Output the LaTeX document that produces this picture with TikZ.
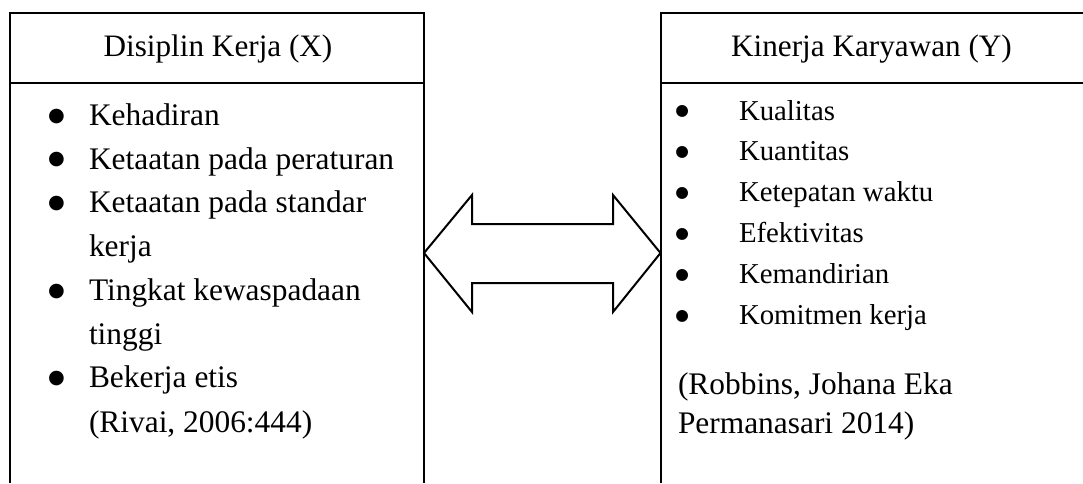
\documentclass[tikz,border=0pt]{standalone}
\usepackage{fontspec}
\setmainfont{Liberation Serif}
\newfontfamily\dotfont{DejaVu Sans}
\begin{document}
\begin{tikzpicture}[x=0.5pt,y=-0.5pt,line width=1pt,
  frame/.style={draw=black,line width=1pt},
  txt/.style={anchor=base west,inner sep=0pt,font=\fontsize{15.7}{19}\selectfont},
  txts/.style={anchor=base west,inner sep=0pt,font=\fontsize{14.4}{17}\selectfont},
  hdr/.style={anchor=base,inner sep=0pt,font=\fontsize{15.6}{19}\selectfont},
  bul/.style={anchor=center,inner sep=0pt,font=\dotfont\fontsize{9.6}{10}\selectfont},
  buls/.style={anchor=center,inner sep=0pt,font=\dotfont\fontsize{7.8}{8}\selectfont},
  arrowshape/.style={draw=black,line width=1pt,fill=white,line join=miter}]
\useasboundingbox (0,0) rectangle (1083,483);
% left box
\draw[frame] (10,483) -- (10,12.5) -- (424,12.5) -- (424,483);
\draw[frame] (10,82.5) -- (424,82.5);
\node[hdr] (hx) at (218,56) {Disiplin Kerja (X)};
\node[bul] (bl1) at (56.5,116.3) {●};
\node[txt] (l1) at (88,125.5) {Kehadiran};
\node[bul] (bl2) at (56.5,160) {●};
\node[txt] (l2) at (88,169.2) {Ketaatan pada peraturan};
\node[bul] (bl3) at (56.5,203.7) {●};
\node[txt] (l3) at (88,212.9) {Ketaatan pada standar};
\node[txt] (l3b) at (88,256.6) {kerja};
\node[bul] (bl4) at (56.5,291.1) {●};
\node[txt] (l4) at (88,300.3) {Tingkat kewaspadaan};
\node[txt] (l4b) at (88,344) {tinggi};
\node[bul] (bl5) at (56.5,378.5) {●};
\node[txt] (l5) at (88,387.7) {Bekerja etis};
\node[txt] (lc) at (88,432) {(Rivai, 2006:444)};
% right box
\draw[frame] (660.5,483) -- (660.5,13) -- (1084,13);
\draw[frame] (660.5,82.5) -- (1084,82.5);
\node[hdr] (hy) at (871.5,56) {Kinerja Karyawan (Y)};
\node[buls] (br1) at (682.3,111.8) {●};
\node[txts] (r1) at (738,120) {Kualitas};
\node[buls] (br2) at (682.3,152.7) {●};
\node[txts] (r2) at (738,160.9) {Kuantitas};
\node[buls] (br3) at (682.3,193.6) {●};
\node[txts] (r3) at (738,201.8) {Ketepatan waktu};
\node[buls] (br4) at (682.3,234.5) {●};
\node[txts] (r4) at (738,242.7) {Efektivitas};
\node[buls] (br5) at (682.3,275.4) {●};
\node[txts] (r5) at (738,283.6) {Kemandirian};
\node[buls] (br6) at (682.3,316.3) {●};
\node[txts] (r6) at (738,324.5) {Komitmen kerja};
\node[txt] (rc1) at (677,394.5) {(Robbins, Johana Eka};
\node[txt] (rc2) at (677,433) {Permanasari 2014)};
% double arrow
\coordinate (tipL) at (424,253);
\coordinate (tipR) at (660.5,253);
\draw[arrowshape] (tipL) -- (472,195) -- (472,224) -- (613,224) -- (613,195)
  -- (tipR) -- (613,312) -- (613,283) -- (472,283) -- (472,312) -- cycle;
\end{tikzpicture}
\end{document}
